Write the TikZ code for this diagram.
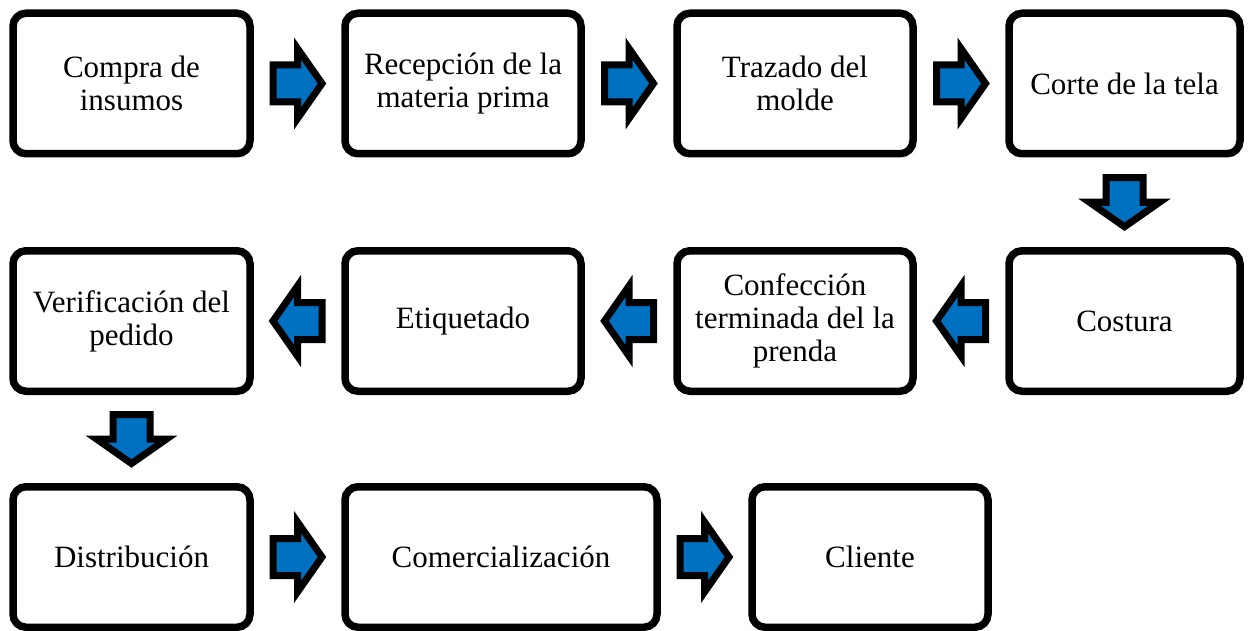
\documentclass[tikz,border=0pt]{standalone}
\usepackage{fontspec}
\setmainfont{Liberation Serif}
\usetikzlibrary{calc}
\definecolor{flowblue}{HTML}{0070C0}
\tikzset{
  stage/.style={draw=black, line width=7.5pt, rounded corners=13pt, fill=white,
    align=center, minimum height=140.5pt, inner sep=2pt,
    font=\fontsize{31}{33}\selectfont},
  blockarrow/.style={draw=black, fill=flowblue, line width=7pt, miter limit=10},
}
% block arrow centred between two anchors, pointing along the given angle
\newcommand{\flowarrow}[3]{%
  \draw[blockarrow, shift={($(#1)!0.5!(#2)$)}, rotate=#3]
    (-24.5,-18.5) -- (0,-18.5) -- (0,-35) -- (24.5,0) -- (0,35) -- (0,18.5)
    -- (-24.5,18.5) -- cycle;}
\begin{document}
\begin{tikzpicture}[x=1pt, y=-1pt]
\useasboundingbox (0,0) rectangle (1252,631);
% first row
\node[stage, minimum width=237pt] (compra) at (131.5,83.5) {Compra de\\insumos};
\node[stage, minimum width=236pt] (recepcion) at (463,83.5) {Recepción de la\\materia prima};
\node[stage, minimum width=236pt] (trazado) at (795,83.5) {Trazado del\\molde};
\node[stage, minimum width=231pt] (corte) at (1124.5,83.5) {Corte de la tela};
% second row
\node[stage, minimum width=231pt] (costura) at (1124.5,321) {Costura};
\node[stage, minimum width=236pt] (confeccion) at (795,321) {Confección\\terminada del la\\prenda};
\node[stage, minimum width=236pt] (etiquetado) at (463,321) {Etiquetado};
\node[stage, minimum width=237pt] (verificacion) at (131.5,321) {Verificación del\\pedido};
% third row
\node[stage, minimum width=237pt] (distribucion) at (131.5,557) {Distribución};
\node[stage, minimum width=312pt] (comercializacion) at (501,557) {Comercialización};
\node[stage, minimum width=236pt] (cliente) at (870,557) {Cliente};
% connectors
\flowarrow{compra.east}{recepcion.west}{0}
\flowarrow{recepcion.east}{trazado.west}{0}
\flowarrow{trazado.east}{corte.west}{0}
\flowarrow{corte.south}{costura.north}{-90}
\flowarrow{costura.west}{confeccion.east}{180}
\flowarrow{confeccion.west}{etiquetado.east}{180}
\flowarrow{etiquetado.west}{verificacion.east}{180}
\flowarrow{verificacion.south}{distribucion.north}{-90}
\flowarrow{distribucion.east}{comercializacion.west}{0}
\flowarrow{comercializacion.east}{cliente.west}{0}
\end{tikzpicture}
\end{document}
